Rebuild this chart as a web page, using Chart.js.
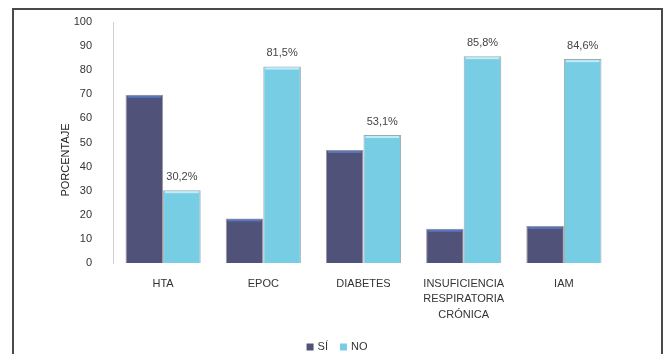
<!DOCTYPE html>
<html>
<head>
<meta charset="utf-8">
<script src="https://cdn.jsdelivr.net/npm/chart.js@4.4.1/dist/chart.umd.min.js"></script>
<style>
  html, body { margin: 0; padding: 0; background: #fff; }
  #wrap { width: 666px; height: 354px; position: relative; }
</style>
</head>
<body>
<div id="wrap"><canvas id="chart"></canvas></div>
<script>
// Patologías asociadas: porcentaje de pacientes SÍ / NO
const categorias = ['HTA', 'EPOC', 'DIABETES', ['INSUFICIENCIA', 'RESPIRATORIA', 'CRÓNICA'], 'IAM'];
const valoresSi = [69.8, 18.5, 46.9, 14.2, 15.4];
const valoresNo = [30.2, 81.5, 53.1, 85.8, 84.6];
const etiquetasNo = ['30,2%', '81,5%', '53,1%', '85,8%', '84,6%'];
const ticksY = [0, 10, 20, 30, 40, 50, 60, 70, 80, 90, 100];

const FONT = 'Liberation Sans, Arial, sans-serif';

// marco exterior (sin borde inferior, queda recortado)
const marco = {
  id: 'marco',
  afterDraw(chart) {
    const c = chart.ctx;
    c.save();
    c.strokeStyle = '#4a4a4a';
    c.lineWidth = 2;
    c.beginPath();
    c.moveTo(13, 360);
    c.lineTo(13, 9);
    c.lineTo(662, 9);
    c.lineTo(662, 360);
    c.stroke();
    c.restore();
  }
};

// brillo superior de cada barra
const bisel = {
  id: 'bisel',
  afterDatasetsDraw(chart) {
    const c = chart.ctx;
    const tonos = ['rgba(90,120,200,0.9)', 'rgba(200,240,250,0.9)'];
    c.save();
    chart.data.datasets.forEach((ds, i) => {
      chart.getDatasetMeta(i).data.forEach(bar => {
        const x0 = bar.x - bar.width / 2 + 2, x1 = bar.x + bar.width / 2 - 2;
        c.fillStyle = tonos[i];
        c.fillRect(x0, bar.y + 1, x1 - x0, 2);
      });
    });
    c.restore();
  }
};

// porcentajes sobre las barras NO, título del eje Y y leyenda
const textos = {
  id: 'textos',
  afterDraw(chart) {
    const c = chart.ctx;
    c.save();
    c.font = '11px ' + FONT;
    c.fillStyle = '#444';
    c.textAlign = 'center';
    c.textBaseline = 'bottom';
    chart.getDatasetMeta(1).data.forEach((bar, i) => {
      c.fillText(etiquetasNo[i], bar.x, bar.y - 8);
    });

    // leyenda centrada bajo el gráfico
    c.textAlign = 'left';
    c.textBaseline = 'middle';
    const ds = chart.data.datasets;
    const caja = 7, sep = 4, hueco = 12, yL = 347;
    const anchos = ds.map(d => caja + sep + c.measureText(d.label).width);
    let x = 337 - (anchos.reduce((a, b) => a + b, 0) + hueco * (ds.length - 1)) / 2;
    ds.forEach((d, i) => {
      c.fillStyle = d.backgroundColor;
      c.fillRect(x, yL - caja / 2, caja, caja);
      c.fillStyle = '#333';
      c.fillText(d.label, x + caja + sep, yL);
      x += anchos[i] + hueco;
    });

    c.translate(66, 160);
    c.rotate(-Math.PI / 2);
    c.textAlign = 'center';
    c.fillStyle = '#222';
    c.fillText('PORCENTAJE', 0, 0);
    c.restore();
  }
};

new Chart(document.getElementById('chart'), {
  type: 'bar',
  data: {
    labels: categorias,
    datasets: [
      {
        label: 'SÍ',
        data: valoresSi,
        backgroundColor: '#50527a',
        borderColor: 'rgba(110,110,120,0.7)',
        borderWidth: 1,
        categoryPercentage: 0.75,
        barPercentage: 1.0
      },
      {
        label: 'NO',
        data: valoresNo,
        backgroundColor: '#77cde3',
        borderColor: 'rgba(120,130,140,0.7)',
        borderWidth: 1,
        categoryPercentage: 0.75,
        barPercentage: 1.0
      }
    ]
  },
  options: {
    responsive: true,
    maintainAspectRatio: false,
    animation: false,
    layout: { padding: { top: 22, right: 52, bottom: 0, left: 0 } },
    plugins: {
      legend: { display: false },
      tooltip: { enabled: false }
    },
    scales: {
      x: {
        grid: { display: false },
        border: { display: false },
        ticks: {
          color: '#333',
          font: { family: FONT, size: 11, lineHeight: 1.4 },
          maxRotation: 0,
          autoSkip: false,
          padding: 5
        },
        afterFit(scale) { scale.height = 91; }
      },
      y: {
        min: 0,
        max: 100,
        afterBuildTicks(scale) { scale.ticks = ticksY.map(v => ({ value: v })); },
        grid: { display: false },
        border: { display: true, color: '#d0d0d0' },
        ticks: {
          color: '#333',
          font: { family: FONT, size: 11 },
          padding: 13
        },
        afterFit(scale) { scale.width = 113; }
      }
    }
  },
  plugins: [marco, bisel, textos]
});
</script>
</body>
</html>
